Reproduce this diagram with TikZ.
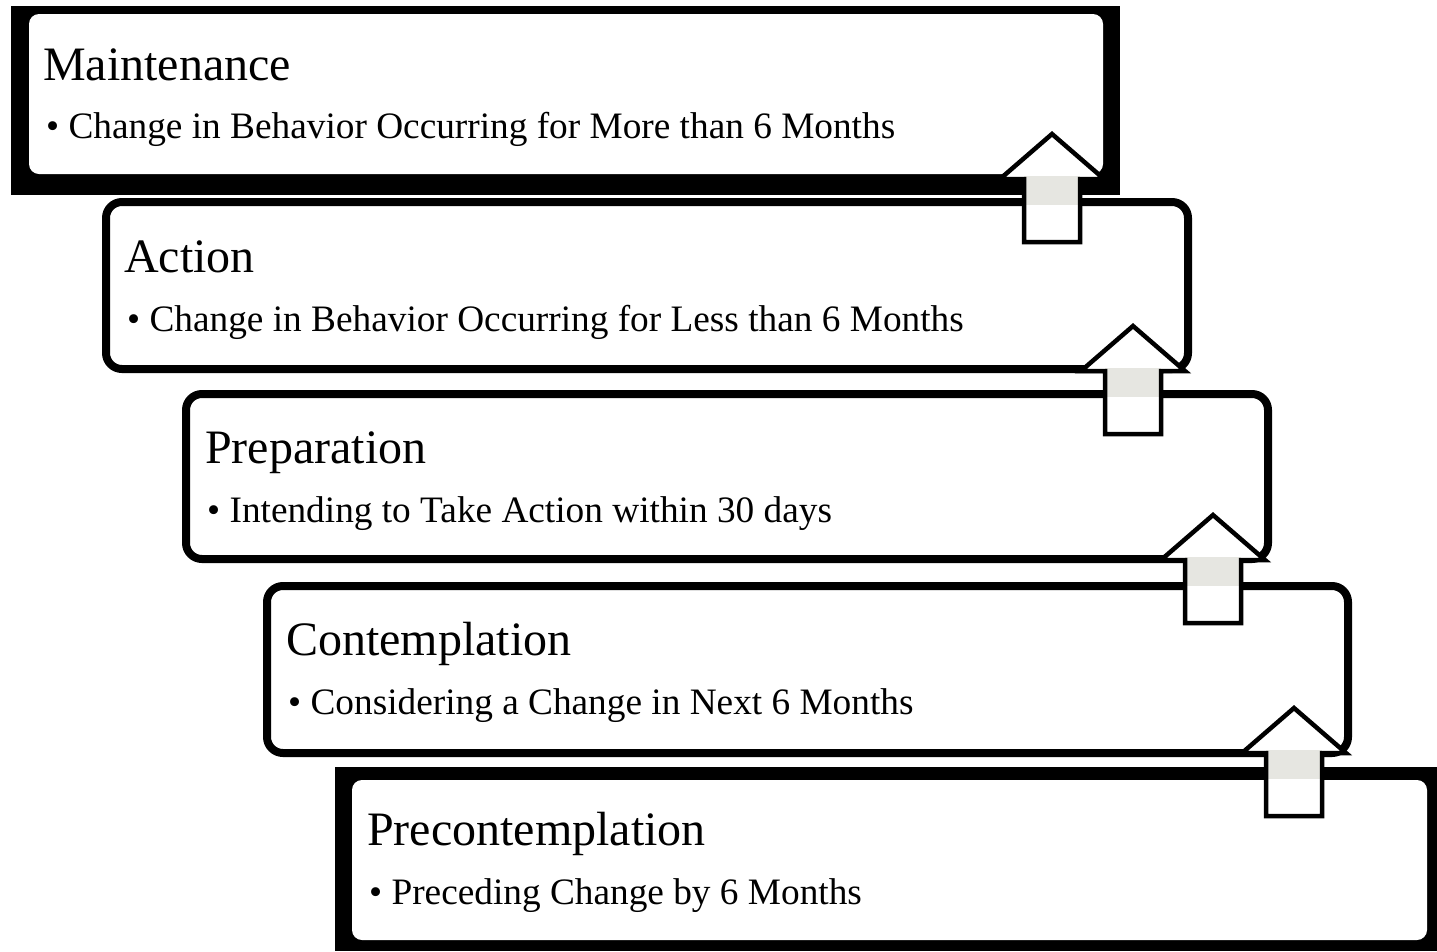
\documentclass[tikz,border=0pt]{standalone}
\usepackage{fontspec}
\setmainfont{Liberation Serif}
\usetikzlibrary{shadows}
\definecolor{bandgrey}{RGB}{230,230,225}
\tikzset{
  x=1pt, y=-1pt,
  stagebox/.style={draw=black, line width=8pt, rounded corners=16pt, fill=white,
    inner sep=0pt, outer sep=0pt, anchor=north west,
    drop shadow={opacity=0.25, shadow xshift=3pt, shadow yshift=-3pt}},
  blackbox/.style={fill=black, draw=none, inner sep=0pt, outer sep=0pt, anchor=north west},
  whitebox/.style={fill=white, draw=none, rounded corners=10pt, inner sep=0pt, outer sep=0pt, anchor=north west},
  titletext/.style={anchor=base west, inner sep=0pt, font=\fontsize{48}{58}\selectfont},
  bullettext/.style={anchor=base west, inner sep=0pt, font=\fontsize{37.3}{44}\selectfont},
  uparr/.pic={
    \fill[white] (0,0) -- (52,45) -- (28,45) -- (28,108) -- (-28,108) -- (-28,45) -- (-52,45) -- cycle;
    \fill[bandgrey] (-28,42) rectangle (28,71);
    \draw[line width=4.5pt, line join=miter] (0,0) -- (52,45) -- (28,45) -- (28,108) -- (-28,108) -- (-28,45) -- (-52,45) -- cycle;
  }
}
\begin{document}
\begin{tikzpicture}
\useasboundingbox[fill=white] (0,0) rectangle (1437,951);

% Maintenance
\node[blackbox, minimum width=1109pt, minimum height=189pt] (mblk) at (11,6) {};
\node[whitebox, minimum width=1074pt, minimum height=160pt] (mbox) at (29,14) {};
\node[titletext] (mtitle) at (43,80) {Maintenance};
\node[bullettext] (mitem) at (46,138) {• Change in Behavior Occurring for More than 6 Months};

% Action
\node[stagebox, minimum width=1082pt, minimum height=167pt] (abox) at (106,202) {};
\node[titletext] (atitle) at (124,272) {Action};
\node[bullettext] (aitem) at (127,331) {• Change in Behavior Occurring for Less than 6 Months};

% Preparation
\node[stagebox, minimum width=1082pt, minimum height=165pt] (pbox) at (186,394) {};
\node[titletext] (ptitle) at (205,463) {Preparation};
\node[bullettext] (pitem) at (207,522) {• Intending to Take Action within 30 days};

% Contemplation
\node[stagebox, minimum width=1081pt, minimum height=167pt] (cbox) at (267,586) {};
\node[titletext] (ctitle) at (286,655) {Contemplation};
\node[bullettext] (citem) at (288,714) {• Considering a Change in Next 6 Months};

% Precontemplation
\node[blackbox, minimum width=1102pt, minimum height=184pt] (pcblk) at (335,767) {};
\node[whitebox, minimum width=1075pt, minimum height=160pt] (pcbox) at (352,780) {};
\node[titletext] (pctitle) at (367,845) {Precontemplation};
\node[bullettext] (pcitem) at (369,904) {• Preceding Change by 6 Months};

% arrows
\coordinate (a1) at (1052,134);
\coordinate (a2) at (1133,326);
\coordinate (a3) at (1213,515);
\coordinate (a4) at (1294,708);
\pic at (a1) {uparr};
\pic at (a2) {uparr};
\pic at (a3) {uparr};
\pic at (a4) {uparr};
\end{tikzpicture}
\end{document}
